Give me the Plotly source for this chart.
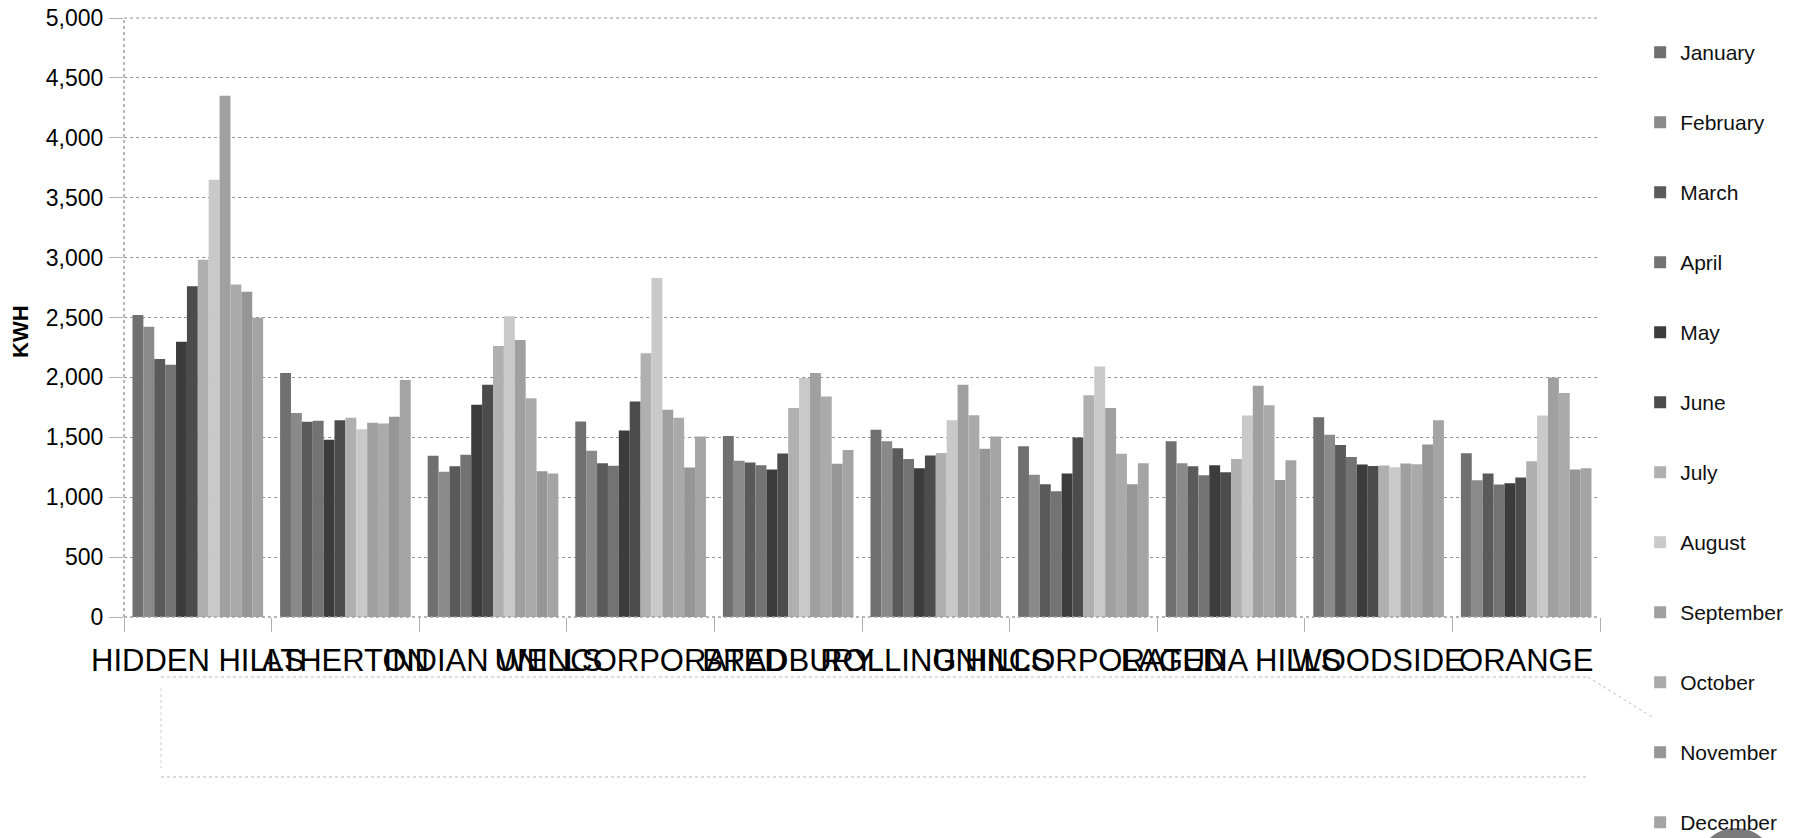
import plotly.graph_objects as go

cities = ["HIDDEN HILLS", "ATHERTON", "INDIAN WELLS", "UNINCORPORATED", "BRADBURY",
          "ROLLING HILLS", "UNINCORPORATED ", "LAGUNA HILLS", "WOODSIDE", "ORANGE"]

months = ["January", "February", "March", "April", "May", "June", "July",
          "August", "September", "October", "November", "December"]

# kWh per city, one list per month
january   = [2520, 2036, 1345, 1632, 1510, 1563, 1426, 1467, 1667, 1367]
february  = [2423, 1702, 1212, 1387, 1304, 1468, 1187, 1283, 1522, 1142]
march     = [2153, 1630, 1259, 1284, 1290, 1409, 1109, 1258, 1436, 1197]
april     = [2106, 1638, 1354, 1262, 1267, 1318, 1050, 1183, 1336, 1106]
may       = [2298, 1479, 1772, 1557, 1231, 1242, 1198, 1267, 1272, 1117]
june      = [2761, 1643, 1939, 1799, 1365, 1348, 1499, 1208, 1261, 1164]
july      = [2983, 1663, 2262, 2201, 1744, 1368, 1852, 1319, 1264, 1300]
august    = [3650, 1568, 2510, 2830, 1995, 1643, 2092, 1681, 1250, 1683]
september = [4350, 1621, 2312, 1730, 2036, 1939, 1744, 1930, 1281, 2000]
october   = [2775, 1616, 1827, 1663, 1841, 1685, 1362, 1767, 1275, 1870]
november  = [2714, 1671, 1217, 1248, 1279, 1404, 1109, 1144, 1439, 1231]
december  = [2497, 1978, 1198, 1507, 1393, 1507, 1284, 1308, 1642, 1242]

series = [january, february, march, april, may, june, july,
          august, september, october, november, december]

colors = ["#707070", "#8a8a8a", "#5a5a5a", "#737373", "#3c3c3c", "#4c4c4c",
          "#b0b0b0", "#c9c9c9", "#a0a0a0", "#aaaaaa", "#969696", "#a4a4a4"]

yticks = [0, 500, 1000, 1500, 2000, 2500, 3000, 3500, 4000, 4500, 5000]

FONT = "Liberation Sans, Arial, sans-serif"

fig = go.Figure()
for name, vals, col in zip(months, series, colors):
    fig.add_trace(go.Bar(
        x=cities, y=vals, name=name, legendgroup=name,
        marker=dict(color=col, line=dict(width=0)),
    ))

# the page body adds an 8px offset, so the figure is 8px smaller than the window
fig.update_layout(
    width=1790, height=830, autosize=False,
    margin=dict(l=116, r=198, t=10, b=221, autoexpand=False),
    paper_bgcolor="white", plot_bgcolor="white",
    barmode="group", bargap=0.115, bargroupgap=0,
    font=dict(family=FONT, color="black"),
    showlegend=True,
    legend=dict(
        x=1.0272, xanchor="left", y=0.9766, yanchor="top",
        font=dict(family=FONT, size=21, color="#111"),
        tracegroupgap=39.7, traceorder="grouped",
        bgcolor="rgba(0,0,0,0)", maxheight=2000,
    ),
)

fig.update_xaxes(
    type="category", tickangle=0, automargin=False,
    tickfont=dict(family=FONT, size=31, color="black"),
    tickson="boundaries", ticks="outside", ticklen=14,
    tickcolor="#b0b0b0", tickwidth=1,
    ticklabelstandoff=22, ticklabeloverflow="allow",
    showgrid=False, showline=False, zeroline=False,
)

fig.update_yaxes(
    range=[0, 5000], tickvals=yticks, tickformat=",", automargin=False,
    tickfont=dict(family=FONT, size=23, color="black"),
    ticks="outside", ticklen=14, tickcolor="#b0b0b0", tickwidth=1,
    ticklabelstandoff=1, ticklabeloverflow="allow",
    showgrid=True, gridcolor="#959595", gridwidth=1, griddash="dot",
    zeroline=False, showline=False,
)

# KWH axis title
fig.add_annotation(
    text="<b>KWH</b>", textangle=-90, showarrow=False,
    xref="paper", yref="paper", x=-0.0698, y=0.4775,
    xanchor="center", yanchor="middle",
    font=dict(family=FONT, size=22, color="black"),
)

# dotted axis lines (and top grid line)
fig.add_shape(type="line", xref="paper", yref="paper", x0=0, x1=0, y0=0, y1=1,
              line=dict(color="#a0a0a0", width=1.5, dash="dot"))
fig.add_shape(type="line", xref="paper", yref="paper", x0=0, x1=1, y0=0, y1=0,
              line=dict(color="#a0a0a0", width=1.5, dash="dot"))
fig.add_shape(type="line", xref="paper", yref="paper", x0=0, x1=1, y0=1, y1=1,
              line=dict(color="#959595", width=1, dash="dot"))

# faint dotted frame below the axis labels (as in the scanned figure), page pixels
px = lambda v: (v - 124) / 1476.0
py = lambda v: 1 - (v - 18) / 599.0
fig.add_shape(type="line", xref="paper", yref="paper", x0=px(161), x1=px(1588),
              y0=py(677), y1=py(677), line=dict(color="#b8b8b8", width=1, dash="dot"))
fig.add_shape(type="line", xref="paper", yref="paper", x0=px(161), x1=px(1588),
              y0=py(777), y1=py(777), line=dict(color="#b8b8b8", width=1, dash="dot"))
fig.add_shape(type="line", xref="paper", yref="paper", x0=px(161), x1=px(161),
              y0=py(688), y1=py(768), line=dict(color="#d0d0d0", width=1, dash="dot"))
fig.add_shape(type="line", xref="paper", yref="paper", x0=px(1588), x1=px(1652),
              y0=py(677), y1=py(717), line=dict(color="#c0c0c0", width=1, dash="dot"))
# dark blob at bottom right
fig.add_shape(type="circle", xref="paper", yref="paper",
              x0=px(1696), x1=px(1776), y0=py(910), y1=py(828),
              fillcolor="#7a7a7a", line=dict(width=0), layer="below")

fig.write_html("out.html")
